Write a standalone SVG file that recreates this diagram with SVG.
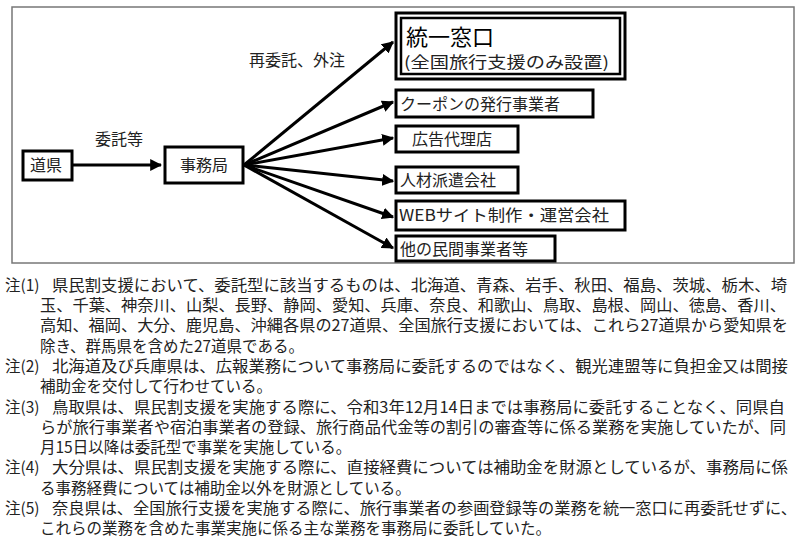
<svg xmlns="http://www.w3.org/2000/svg" width="800" height="539" viewBox="0 0 800 539">
<style>
text{font-family:"Noto Sans CJK JP","Noto Sans",sans-serif;fill:#222;font-size:16px}
.b{fill:#fff;stroke:#000;stroke-width:3}
.c{stroke:#000;stroke-width:3;fill:none;marker-end:url(#ah)}
.n{font-size:15.5px}
</style>
<defs><marker id="ah" viewBox="0 0 10 10" refX="9" refY="5" markerWidth="4" markerHeight="4" orient="auto" markerUnits="strokeWidth"><path d="M0,0L10,5L0,10z" fill="#000"/></marker></defs>
<rect x="12" y="7" width="782" height="256" fill="#fff" stroke="#777" stroke-width="1.5"/>
<g id="connectors">
<line class="c" x1="72" y1="165" x2="161" y2="165"/>
<line class="c" x1="244" y1="165" x2="393" y2="42"/>
<line class="c" x1="244" y1="165" x2="393" y2="102"/>
<line class="c" x1="244" y1="165" x2="393" y2="138"/>
<line class="c" x1="244" y1="165" x2="393" y2="181"/>
<line class="c" x1="244" y1="165" x2="393" y2="217"/>
<line class="c" x1="244" y1="165" x2="393" y2="248"/>
<text x="95" y="145">委託等</text>
<text x="249" y="66">再委託、外注</text>
</g>
<g id="n1"><rect class="b" x="23" y="151" width="49" height="29"/><text x="30" y="171">道県</text></g>
<g id="n2"><rect class="b" x="165" y="147" width="78" height="36"/><text x="180" y="171">事務局</text></g>
<g id="n3"><rect class="b" x="396" y="13" width="229" height="66"/><rect x="401" y="18" width="219" height="56" fill="none" stroke="#000" stroke-width="2.5"/><text x="406" y="45" style="font-size:22px;fill:#000">統一窓口</text><text x="404" y="68" textLength="205" lengthAdjust="spacingAndGlyphs">(全国旅行支援のみ設置)</text></g>
<g id="n4"><rect class="b" x="396" y="90" width="197" height="27"/><text x="400" y="110">クーポンの発行事業者</text></g>
<g id="n5"><rect class="b" x="396" y="126" width="122" height="26"/><text x="412" y="145">広告代理店</text></g>
<g id="n6"><rect class="b" x="396" y="167" width="122" height="26"/><text x="400" y="186">人材派遣会社</text></g>
<g id="n7"><rect class="b" x="396" y="201" width="229" height="29"/><text x="399" y="221" textLength="210" lengthAdjust="spacingAndGlyphs">WEBサイト制作・運営会社</text></g>
<g id="n8"><rect class="b" x="396" y="236" width="159" height="25"/><text x="400" y="255">他の民間事業者等</text></g>
<g id="notes" class="n">
<text class="n" x="5" y="291">注(1)</text>
<text class="n" x="52" y="291" textLength="735" lengthAdjust="spacingAndGlyphs">県民割支援において、委託型に該当するものは、北海道、青森、岩手、秋田、福島、茨城、栃木、埼</text>
<text class="n" x="40" y="311" textLength="746" lengthAdjust="spacingAndGlyphs">玉、千葉、神奈川、山梨、長野、静岡、愛知、兵庫、奈良、和歌山、鳥取、島根、岡山、徳島、香川、</text>
<text class="n" x="40" y="331" textLength="748" lengthAdjust="spacingAndGlyphs">高知、福岡、大分、鹿児島、沖縄各県の27道県、全国旅行支援においては、これら27道県から愛知県を</text>
<text class="n" x="40" y="352">除き、群馬県を含めた27道県である。</text>
<text class="n" x="5" y="372">注(2)</text>
<text class="n" x="52" y="372" textLength="736" lengthAdjust="spacingAndGlyphs">北海道及び兵庫県は、広報業務について事務局に委託するのではなく、観光連盟等に負担金又は間接</text>
<text class="n" x="40" y="392">補助金を交付して行わせている。</text>
<text class="n" x="5" y="413">注(3)</text>
<text class="n" x="52" y="413" textLength="733" lengthAdjust="spacingAndGlyphs">鳥取県は、県民割支援を実施する際に、令和3年12月14日までは事務局に委託することなく、同県自</text>
<text class="n" x="40" y="433" textLength="746" lengthAdjust="spacingAndGlyphs">らが旅行事業者や宿泊事業者の登録、旅行商品代金等の割引の審査等に係る業務を実施していたが、同</text>
<text class="n" x="40" y="453">月15日以降は委託型で事業を実施している。</text>
<text class="n" x="5" y="473">注(4)</text>
<text class="n" x="52" y="473" textLength="736" lengthAdjust="spacingAndGlyphs">大分県は、県民割支援を実施する際に、直接経費については補助金を財源としているが、事務局に係</text>
<text class="n" x="40" y="494">る事務経費については補助金以外を財源としている。</text>
<text class="n" x="5" y="514">注(5)</text>
<text class="n" x="52" y="514" textLength="745" lengthAdjust="spacingAndGlyphs">奈良県は、全国旅行支援を実施する際に、旅行事業者の参画登録等の業務を統一窓口に再委託せずに、</text>
<text class="n" x="40" y="534">これらの業務を含めた事業実施に係る主な業務を事務局に委託していた。</text>
</g>
</svg>
